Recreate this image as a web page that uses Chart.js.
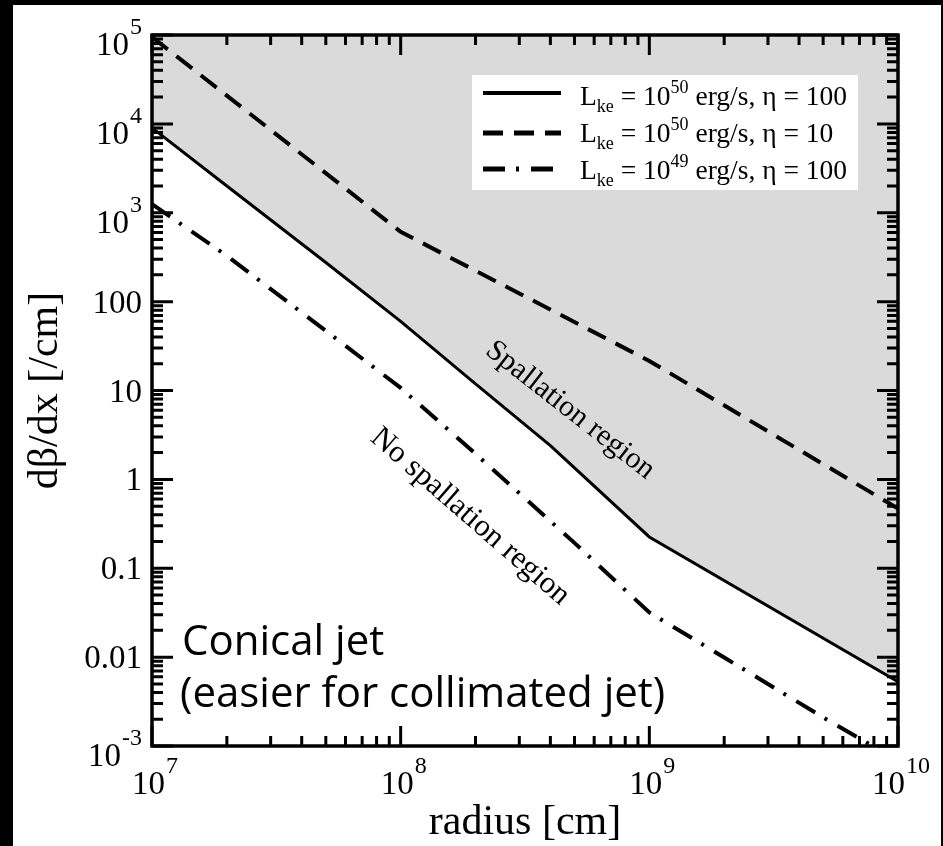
<!DOCTYPE html>
<html>
<head>
<meta charset="utf-8">
<script src="https://cdn.jsdelivr.net/npm/chart.js@4.4.0/dist/chart.umd.min.js"></script>
<style>
html, body { margin: 0; padding: 0; background: #000; }
#wrap { position: absolute; left: 13px; top: 5px; width: 928px; height: 841px; background: #fff; }
canvas { display: block; }
</style>
</head>
<body>
<div id="wrap"><canvas id="myChart" width="928" height="841"></canvas></div>
<script>
// Lke = 1e50 erg/s, eta = 100 (solid)
const solidR = [1e7, 2e7, 5e7, 1e8, 2e8, 4e8, 1e9, 1e10];
const solidVal = [9000, 2000, 276, 60, 11.9, 2.4, 0.225, 0.0053];
// Lke = 1e50 erg/s, eta = 10 (dashed)
const dashedR = [1e7, 1e8, 1e9, 1e10];
const dashedVal = [95000, 610, 21.5, 0.47];
// Lke = 1e49 erg/s, eta = 100 (dash-dot)
const dotR = [1e7, 2e7, 5e7, 1e8, 2e8, 5e8, 1e9, 2e9, 5e9, 1e10];
const dotVal = [1250, 328, 47, 10.7, 1.94, 0.193, 0.0318, 0.0099, 0.0021, 0.00068];

const xTicks = [1e7, 1e8, 1e9, 1e10];
const xTickLabels = ['10^7', '10^8', '10^9', '10^10'];
const yTicks = [1e-3, 0.01, 0.1, 1, 10, 100, 1e3, 1e4, 1e5];
const yTickLabels = ['10^-3', '0.01', '0.1', '1', '10', '100', '10^3', '10^4', '10^5'];

const legendLabels = [
    ['50', '100'],
    ['50', '10'],
    ['49', '100']
];

const serif = '"Liberation Serif", "DejaVu Serif", serif';
const pts = (xs, ys) => xs.map((v, i) => ({ x: v, y: ys[i] }));

// draws "10^n" or a plain label; align: 'center' or 'right'
function drawTickLabel(ctx, label, x, y, align) {
    const parts = label.split('^');
    ctx.font = `33px ${serif}`;
    const w1 = ctx.measureText(parts[0]).width;
    let w2 = 0;
    if (parts[1]) {
        ctx.font = `24px ${serif}`;
        w2 = ctx.measureText(parts[1]).width + 1;
    }
    const w = w1 + w2;
    const left = align === 'right' ? x - w : x - w / 2;
    ctx.textAlign = 'left';
    ctx.textBaseline = 'alphabetic';
    ctx.fillStyle = '#000';
    ctx.font = `33px ${serif}`;
    ctx.fillText(parts[0], left, y);
    if (parts[1]) {
        ctx.font = `24px ${serif}`;
        ctx.fillText(parts[1], left + w1 + 1, y - 21);
    }
}

function drawRich(ctx, segs, x, y) {
    let cx = x;
    ctx.textAlign = 'left';
    ctx.textBaseline = 'alphabetic';
    segs.forEach(s => {
        ctx.font = `${s.size}px ${serif}`;
        ctx.fillText(s.t, cx, y + (s.dy || 0));
        cx += ctx.measureText(s.t).width;
    });
}

const framePlugin = {
    id: 'framePlugin',
    afterDatasetsDraw(chart) {
        const { ctx, chartArea: a, scales: { x, y } } = chart;
        ctx.save();
        ctx.strokeStyle = '#000';
        ctx.fillStyle = '#000';

        // inward ticks on all four sides
        ctx.lineWidth = 3;
        for (let n = 7; n <= 10; n++) {
            for (let k = 1; k <= 9; k++) {
                const v = k * Math.pow(10, n);
                if (v > 1e10) break;
                const px = x.getPixelForValue(v);
                const len = k === 1 ? 20 : 10;
                ctx.beginPath();
                ctx.moveTo(px, a.bottom); ctx.lineTo(px, a.bottom - len);
                ctx.moveTo(px, a.top); ctx.lineTo(px, a.top + len);
                ctx.stroke();
            }
        }
        for (let n = -3; n <= 5; n++) {
            for (let k = 1; k <= 9; k++) {
                const v = k * Math.pow(10, n);
                if (v > 1e5 * 1.0001) break;
                const py = y.getPixelForValue(v);
                const len = k === 1 ? 21 : 11;
                ctx.beginPath();
                ctx.moveTo(a.left, py); ctx.lineTo(a.left + len, py);
                ctx.moveTo(a.right, py); ctx.lineTo(a.right - len, py);
                ctx.stroke();
            }
        }

        // frame
        ctx.lineWidth = 3.5;
        ctx.strokeRect(a.left, a.top, a.right - a.left, a.bottom - a.top);

        // tick labels
        xTicks.forEach((v, i) => {
            drawTickLabel(ctx, xTickLabels[i], x.getPixelForValue(v) + 3, a.bottom + 48, 'center');
        });
        yTicks.forEach((v, i) => {
            const py = y.getPixelForValue(v);
            const isPow = yTickLabels[i].indexOf('^') >= 0;
            drawTickLabel(ctx, yTickLabels[i], a.left - 10, py + (isPow ? 20 : 11), 'right');
        });

        // axis titles
        ctx.font = `42px ${serif}`;
        ctx.textAlign = 'center';
        ctx.textBaseline = 'middle';
        ctx.fillText('radius [cm]', (a.left + a.right) / 2, a.bottom + 77);
        ctx.save();
        ctx.translate(a.left - 106, (a.top + a.bottom) / 2);
        ctx.rotate(-Math.PI / 2);
        ctx.fillText('d\u03B2/dx [/cm]', 0, 0);
        ctx.restore();

        // region labels
        ctx.font = `30px ${serif}`;
        ctx.save();
        ctx.translate(x.getPixelForValue(4.8e8), y.getPixelForValue(6.0));
        ctx.rotate(38 * Math.PI / 180);
        ctx.fillText('Spallation region', 0, 0);
        ctx.restore();
        ctx.font = `31px ${serif}`;
        ctx.save();
        ctx.translate(x.getPixelForValue(1.9e8), y.getPixelForValue(0.38));
        ctx.rotate(41 * Math.PI / 180);
        ctx.fillText('No spallation region', 0, 0);
        ctx.restore();

        // note
        ctx.font = '42px "Open Sans", "Noto Sans", sans-serif';
        ctx.textAlign = 'left';
        ctx.textBaseline = 'alphabetic';
        ctx.fillText('Conical jet', a.left + 30, a.bottom - 91);
        ctx.fillText('(easier for collimated jet)', a.left + 28, a.bottom - 39);

        // legend
        const bx = a.right - 426, by = a.top + 40, bw = 386, bh = 115;
        ctx.fillStyle = '#fff';
        ctx.fillRect(bx, by, bw, bh);
        ctx.fillStyle = '#000';
        const rowLine = [18, 58, 94];
        const rowText = [30, 67, 104];
        chart.data.datasets.forEach((ds, i) => {
            ctx.lineWidth = ds.borderWidth + 1;
            ctx.setLineDash(ds.borderDash || []);
            ctx.beginPath();
            ctx.moveTo(bx + 11, by + rowLine[i]);
            ctx.lineTo(bx + 89, by + rowLine[i]);
            ctx.stroke();
            ctx.setLineDash([]);
            drawRich(ctx, [
                { t: 'L', size: 27.5 },
                { t: 'ke', size: 18, dy: 7 },
                { t: ' = 10', size: 27.5 },
                { t: legendLabels[i][0], size: 18, dy: -12 },
                { t: ' erg/s, \u03B7 = ' + legendLabels[i][1], size: 27.5 }
            ], bx + 108, by + rowText[i]);
        });
        ctx.restore();
    }
};

new Chart(document.getElementById('myChart').getContext('2d'), {
    type: 'line',
    data: {
        datasets: [{
            label: 'Lke = 1e50 erg/s, eta = 100',
            data: pts(solidR, solidVal),
            borderColor: '#000',
            borderWidth: 3,
            backgroundColor: '#dadada',
            fill: 'end',
            pointRadius: 0,
            tension: 0
        }, {
            label: 'Lke = 1e50 erg/s, eta = 10',
            data: pts(dashedR, dashedVal),
            borderColor: '#000',
            borderWidth: 4,
            borderDash: [20, 11],
            fill: false,
            pointRadius: 0,
            tension: 0
        }, {
            label: 'Lke = 1e49 erg/s, eta = 100',
            data: pts(dotR, dotVal),
            borderColor: '#000',
            borderWidth: 4,
            borderDash: [22, 11, 3, 12],
            fill: false,
            pointRadius: 0,
            tension: 0
        }]
    },
    options: {
        responsive: false,
        animation: false,
        layout: { padding: { left: 139, top: 30, right: 43, bottom: 100 } },
        plugins: {
            legend: { display: false },
            tooltip: { enabled: false },
            filler: { drawTime: 'beforeDatasetsDraw' }
        },
        scales: {
            x: { type: 'logarithmic', min: 1e7, max: 1e10, display: false },
            y: { type: 'logarithmic', min: 1e-3, max: 1e5, display: false }
        }
    },
    plugins: [framePlugin]
});
</script>
</body>
</html>
